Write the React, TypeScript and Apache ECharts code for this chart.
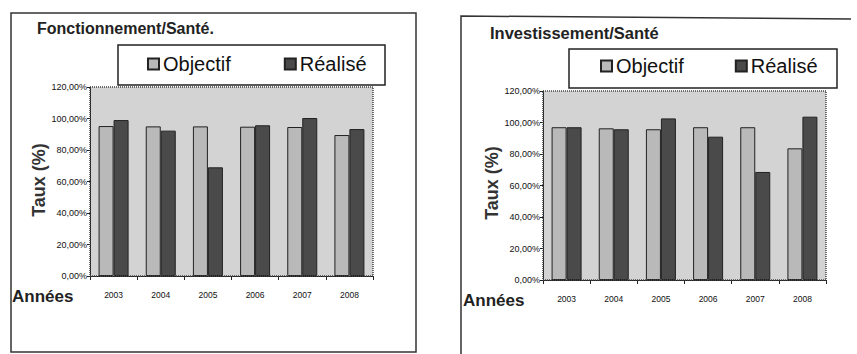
import React, { useEffect, useRef } from "react";
import * as echarts from "echarts";

const categories = ["2003", "2004", "2005", "2006", "2007", "2008"];
const fonctObjectif = [0.952, 0.95, 0.95, 0.948, 0.946, 0.895];
const fonctRealise = [0.99, 0.923, 0.69, 0.957, 1.003, 0.933];
const investObjectif = [0.97, 0.963, 0.957, 0.97, 0.97, 0.836];
const investRealise = [0.97, 0.957, 1.026, 0.91, 0.686, 1.037];
const seriesNames = ["Objectif", "Réalisé"];
const titles = ["Fonctionnement/Santé.", "Investissement/Santé"];

const LIGHT = "#b9b9b9";
const DARK = "#4a4a4a";
const NARROW = "'Liberation Sans Narrow', 'Liberation Sans', Arial, sans-serif";
const SANS = "'Liberation Sans', Arial, sans-serif";

export default function App() {
  const ref = useRef<HTMLDivElement>(null);
  useEffect(() => {
    if (!ref.current) return;
    const chart = echarts.init(ref.current, undefined, { renderer: "svg" });
    const grids = [
      { left: 90, top: 87, width: 283, height: 189 },
      { left: 543, top: 91, width: 283, height: 189 },
    ];
    const yFmt = (v: number) => (v * 100).toFixed(2).replace(".", ",") + "%";
    const xAxis = grids.map((_, i) => ({
      type: "category",
      gridIndex: i,
      data: categories,
      axisLine: { lineStyle: { color: "#222", width: 1 } },
      axisTick: { show: true, length: 4, inside: false, lineStyle: { color: "#222" } },
      axisLabel: { fontFamily: NARROW, fontSize: 8.5, color: "#111", margin: 14 },
    }));
    const yAxis = grids.map((_, i) => ({
      type: "value",
      gridIndex: i,
      min: 0,
      max: 1.2,
      interval: 0.2,
      axisLine: { show: true, lineStyle: { color: "#222", width: 1 } },
      axisTick: { show: true, length: 3, lineStyle: { color: "#222" } },
      splitLine: { show: false },
      axisLabel: { fontFamily: NARROW, fontSize: 9, color: "#111", margin: 3, formatter: yFmt },
    }));
    const mk = (name: string, data: number[], idx: number, color: string) => ({
      type: "bar",
      name,
      xAxisIndex: idx,
      yAxisIndex: idx,
      data,
      barWidth: 15,
      barGap: "0%",
      itemStyle: { color, borderColor: "#222", borderWidth: 1 },
    });
    const series = [
      mk(seriesNames[0], fonctObjectif, 0, LIGHT),
      mk(seriesNames[1], fonctRealise, 0, DARK),
      mk(seriesNames[0], investObjectif, 1, LIGHT),
      mk(seriesNames[1], investRealise, 1, DARK),
    ];
    const legendBase = {
      orient: "horizontal",
      itemWidth: 11,
      itemHeight: 11,
      icon: "rect",
      textStyle: { fontFamily: SANS, fontSize: 20, color: "#111", padding: [0, 0, 0, -1] },
      selectedMode: false,
      data: seriesNames,
    };
    const legend = [
      { ...legendBase, left: 142, top: 49, itemGap: 53 },
      { ...legendBase, left: 595, top: 51, itemGap: 51 },
    ];
    const plotBorders = grids.map((g) => ({
      type: "rect",
      shape: { x: g.left, y: g.top, width: g.width, height: g.height },
      style: { fill: "none", stroke: "#444", lineWidth: 1.5, lineDash: [1, 1] },
      z: 10,
    }));
    const graphic: any[] = [
      {
        type: "rect",
        shape: { x: 11, y: 13, width: 405, height: 339 },
        style: { fill: "none", stroke: "#333", lineWidth: 1.5 },
      },
      {
        type: "polyline",
        shape: { points: [[461, 400], [461, 16], [851, 19]] },
        style: { fill: "none", stroke: "#333", lineWidth: 1.5 },
      },
      {
        type: "rect",
        shape: { x: 118, y: 45, width: 267, height: 40 },
        style: { fill: "#fff", stroke: "#222", lineWidth: 1.5 },
        z: -1,
      },
      {
        type: "rect",
        shape: { x: 569, y: 49, width: 268, height: 39 },
        style: { fill: "#fff", stroke: "#222", lineWidth: 1.5 },
        z: -1,
      },
      {
        type: "text",
        x: 37,
        y: 28,
        style: { text: titles[0], font: `bold 16px ${SANS}`, fill: "#222", verticalAlign: "middle" },
      },
      {
        type: "text",
        x: 490,
        y: 33,
        style: { text: titles[1], font: `bold 16.5px ${SANS}`, fill: "#222", verticalAlign: "middle" },
      },
      {
        type: "text",
        x: 39,
        y: 180,
        rotation: Math.PI / 2,
        style: { text: "Taux (%)", font: `bold 18px ${SANS}`, fill: "#333", align: "center", verticalAlign: "middle" },
      },
      {
        type: "text",
        x: 492,
        y: 183,
        rotation: Math.PI / 2,
        style: { text: "Taux (%)", font: `bold 18px ${SANS}`, fill: "#333", align: "center", verticalAlign: "middle" },
      },
      {
        type: "text",
        x: 12,
        y: 296,
        style: { text: "Années", font: `bold 17px ${SANS}`, fill: "#222", verticalAlign: "middle" },
      },
      {
        type: "text",
        x: 463,
        y: 300,
        style: { text: "Années", font: `bold 17px ${SANS}`, fill: "#222", verticalAlign: "middle" },
      },
      ...plotBorders,
    ];
    chart.setOption({
      animation: false,
      backgroundColor: "#fff",
      grid: grids.map((g) => ({
        ...g,
        show: true,
        backgroundColor: "#d3d3d3",
        borderWidth: 0,
        containLabel: false,
      })),
      xAxis,
      yAxis,
      legend,
      series,
      graphic,
    });
    return () => chart.dispose();
  }, []);
  return (
    <div
      ref={ref}
      style={{ position: "fixed", left: 0, top: 0, width: 857, height: 354 }}
    />
  );
}
